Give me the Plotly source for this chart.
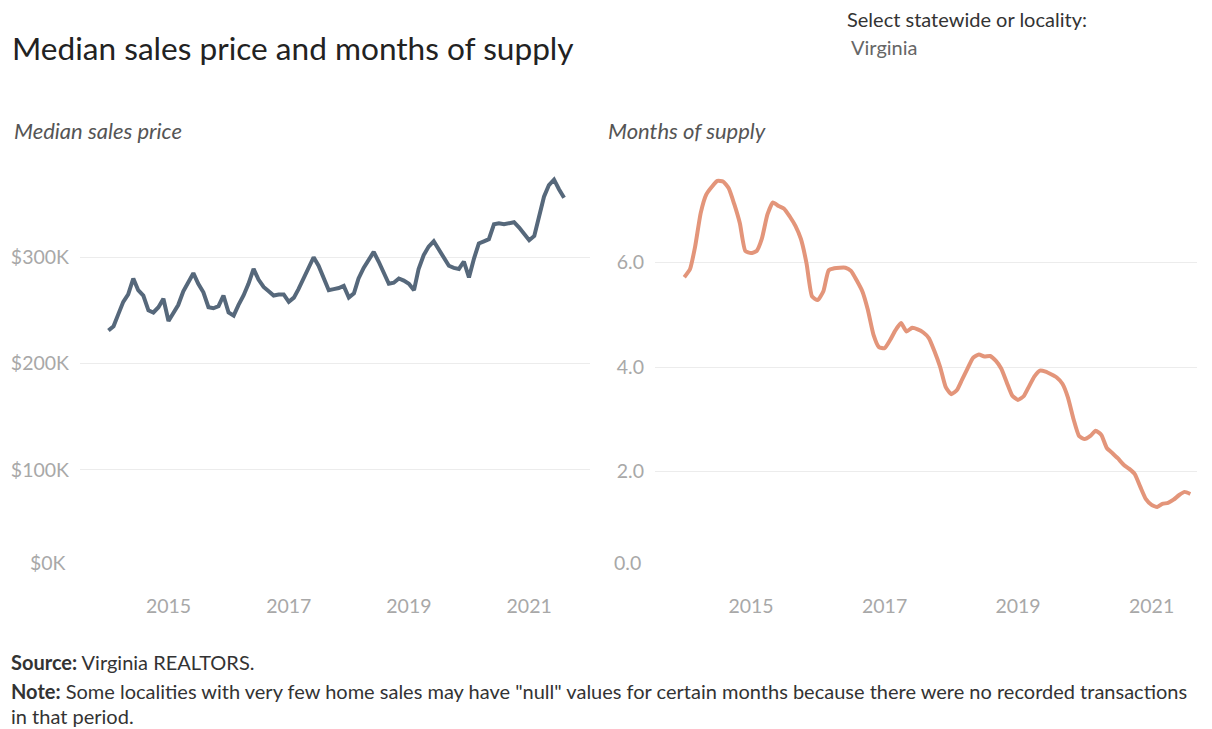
import pandas as pd
import plotly.graph_objects as go

# ---------------- data ----------------
months = pd.date_range("2014-01-01", periods=92, freq="MS")

median_price_k = [
    231, 235, 246, 258, 265, 280, 269, 264, 250, 248, 253, 261,   # 2014
    240, 248, 255, 268, 276, 285, 275, 267, 253, 252, 254, 264,   # 2015
    248, 245, 255, 264, 275, 289, 279, 272, 268, 264, 265, 265,   # 2016
    258, 262, 270, 280, 289, 300, 292, 280, 269, 270, 271, 273,   # 2017
    262, 266, 280, 290, 297, 305, 296, 286, 275, 276, 280, 278,   # 2018
    275, 269, 289, 302, 310, 315, 308, 300, 292, 290, 289, 296,   # 2019
    281, 299, 313, 315, 317, 331, 332, 331, 332, 333, 328, 322,   # 2020
    316, 320, 338, 357, 368, 373, 364, 356,                       # 2021
]

months_supply = [
    5.72, 5.87, 6.30, 6.95, 7.30, 7.45, 7.56, 7.55, 7.42, 7.12, 6.75, 6.22,  # 2014
    6.18, 6.22, 6.45, 6.92, 7.15, 7.08, 7.03, 6.88, 6.70, 6.45, 5.98, 5.35,  # 2015
    5.28, 5.45, 5.85, 5.89, 5.90, 5.90, 5.84, 5.66, 5.45, 5.10, 4.62, 4.38,  # 2016
    4.36, 4.52, 4.70, 4.84, 4.68, 4.75, 4.72, 4.66, 4.55, 4.30, 4.00, 3.62,  # 2017
    3.48, 3.56, 3.76, 3.98, 4.18, 4.24, 4.20, 4.21, 4.12, 3.97, 3.70, 3.45,  # 2018
    3.37, 3.44, 3.62, 3.82, 3.93, 3.91, 3.86, 3.80, 3.68, 3.42, 3.00, 2.68,  # 2019
    2.62, 2.68, 2.78, 2.70, 2.45, 2.35, 2.25, 2.13, 2.05, 1.95, 1.70, 1.47,  # 2020
    1.36, 1.32, 1.38, 1.40, 1.46, 1.55, 1.61, 1.57,                          # 2021
]

year_ticks = ["2015-01-01", "2017-01-01", "2019-01-01", "2021-01-01"]
year_labels = ["2015", "2017", "2019", "2021"]
price_ticks = [100, 200, 300]
price_labels = ["$100K", "$200K", "$300K"]
supply_ticks = [2, 4, 6]
supply_labels = ["2.0", "4.0", "6.0"]

# ---------------- layout helpers ----------------
W, H = 1212, 729
FONT = "Lato"
TICK_COLOR = "#a8a8a8"
GRID = "#ececec"


def px_x(p):
    return p / W


def px_y(p):
    return 1 - p / H


def date_range_for(left_px, right_px, anchor_px, px_per_year):
    anchor = pd.Timestamp("2015-01-01")
    d = pd.Timedelta(days=365.25)
    lo = anchor + d * ((left_px - anchor_px) / px_per_year)
    hi = anchor + d * ((right_px - anchor_px) / px_per_year)
    return [lo.strftime("%Y-%m-%d %H:%M"), hi.strftime("%Y-%m-%d %H:%M")]


L_LEFT, L_RIGHT = 80, 590
R_LEFT, R_RIGHT = 655, 1197
BOTTOM = 576
L_TOP = 151
R_TOP = 158

fig = go.Figure()
fig.add_trace(go.Scatter(
    x=months, y=median_price_k, mode="lines",
    line=dict(color="#56687b", width=4), xaxis="x", yaxis="y",
    hoverinfo="skip", showlegend=False,
))
fig.add_trace(go.Scatter(
    x=months, y=months_supply, mode="lines",
    line=dict(color="#e3957a", width=4, shape="spline", smoothing=0.5),
    xaxis="x2", yaxis="y2", hoverinfo="skip", showlegend=False,
))

axis_common = dict(showline=False, zeroline=False, ticks="",
                   tickfont=dict(family=FONT, size=19.5, color=TICK_COLOR))

fig.update_layout(
    width=W, height=H,
    margin=dict(l=0, r=0, t=0, b=0),
    paper_bgcolor="white", plot_bgcolor="white",
    font=dict(family=FONT),
    xaxis=dict(domain=[px_x(L_LEFT), px_x(L_RIGHT)],
               range=date_range_for(L_LEFT, L_RIGHT, 168.5, 60.1),
               tickvals=year_ticks, ticktext=year_labels, showgrid=False,
               ticklabelstandoff=16, anchor="y", **axis_common),
    yaxis=dict(domain=[px_y(BOTTOM), px_y(L_TOP)], range=[0, 400],
               tickvals=price_ticks, ticktext=price_labels,
               showgrid=True, gridcolor=GRID, gridwidth=1,
               ticklabelstandoff=10, anchor="x", **axis_common),
    xaxis2=dict(domain=[px_x(R_LEFT), px_x(R_RIGHT)],
                range=date_range_for(R_LEFT, R_RIGHT, 751, 66.75),
                tickvals=year_ticks, ticktext=year_labels, showgrid=False,
                ticklabelstandoff=16, anchor="y2", **axis_common),
    yaxis2=dict(domain=[px_y(BOTTOM), px_y(R_TOP)], range=[0, 8],
                tickvals=supply_ticks, ticktext=supply_labels,
                showgrid=True, gridcolor=GRID, gridwidth=1,
                ticklabelstandoff=10, anchor="x2", **axis_common),
)


def note(text, x, y, size, color, xanchor="left", **kw):
    fig.add_annotation(text=text, x=px_x(x), y=px_y(y), xref="paper", yref="paper",
                       xanchor=xanchor, yanchor="middle", showarrow=False,
                       font=dict(family=FONT, size=size, color=color), align="left", **kw)


note("Median sales price and months of supply", 10, 48, 31.6, "#222222")
note("Select statewide or locality:", 845, 19, 20, "#333333")
note("Virginia", 849, 47, 20, "#666666")
note("<i>Median sales price</i>", 12, 130, 22, "#555555")
note("<i>Months of supply</i>", 606, 130, 22, "#555555")
# bottom (zero) tick labels, shifted up inside the axis as in the original
note("$0K", 68, 562, 19.5, TICK_COLOR, xanchor="right")
note("0.0", 643, 562, 19.5, TICK_COLOR, xanchor="right")

note("<b>Source:</b> Virginia REALTORS.", 9, 662, 20, "#333333")
note("<b>Note:</b> Some localities with very few home sales may have \"null\" values for certain months "
     "because there were no recorded transactions", 9, 691, 20, "#333333")
note("in that period.", 9, 716, 20, "#333333")

fig.write_html("out.html",
               config={"displayModeBar": False},
               post_script="document.body.style.margin='0px';document.body.style.padding='0px';"
                           "document.documentElement.style.overflow='hidden';")
